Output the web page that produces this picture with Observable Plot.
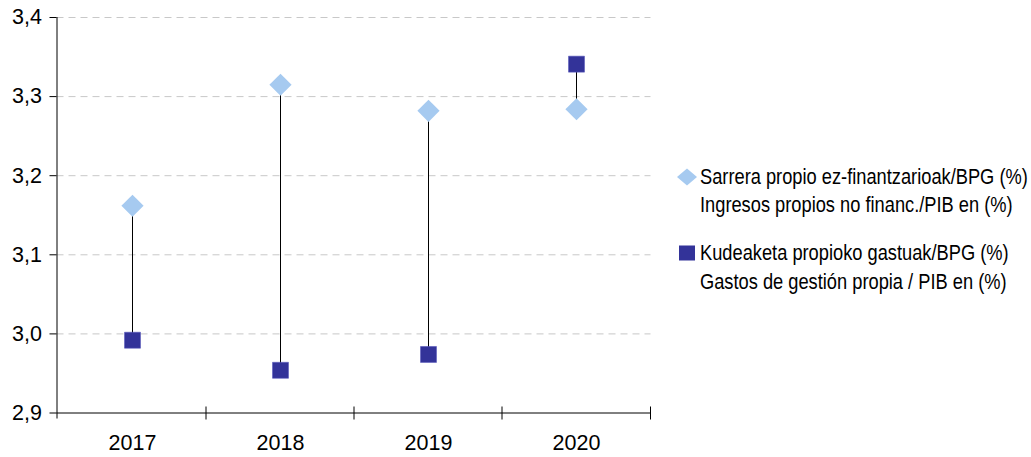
<!DOCTYPE html>
<html><head><meta charset="utf-8">
<script src="https://cdn.jsdelivr.net/npm/d3@7"></script>
<script src="https://cdn.jsdelivr.net/npm/@observablehq/plot@0.6"></script>
<style>
body{margin:0;background:#fff;font-family:"Liberation Sans",Arial,sans-serif;}
#wrap{position:relative;width:1031px;height:457px;overflow:hidden;}
.lt{position:absolute;white-space:nowrap;font-family:"Liberation Sans",Arial,sans-serif;font-size:22px;line-height:28px;height:28px;color:#000;transform:scaleX(0.83);transform-origin:0 50%;}
.lm{position:absolute;}
</style></head><body><div id="wrap"></div>
<script>
const years = ["2017", "2018", "2019", "2020"];
const ingresos = [3.162, 3.315, 3.282, 3.284];
const gastos = [2.992, 2.954, 2.974, 3.341];
const yTicks = [2.9, 3.0, 3.1, 3.2, 3.3, 3.4];
const seriesLines = [
  ["Sarrera propio ez-finantzarioak/BPG (%)", "Ingresos propios no financ./PIB en (%)"],
  ["Kudeaketa propioko gastuak/BPG (%)", "Gastos de gestión propia / PIB en (%)"]
];
const colors = ["#a6caf0", "#333399"];

const data = years.map((y, i) => ({year: y, ing: ingresos[i], gas: gastos[i]}));

const chart = Plot.plot({
  width: 1031, height: 457,
  marginLeft: 56.5, marginRight: 380.5, marginTop: 17, marginBottom: 44.5,
  style: {fontFamily: "'Liberation Sans', Arial, sans-serif", fontSize: "21.5px", color: "#000", background: "#fff"},
  x: {type: "band", domain: years, padding: 0, label: null},
  y: {domain: [2.9, 3.4], label: null},
  marks: [
    Plot.gridY(yTicks.slice(1), {stroke: "#c8c8c8", strokeOpacity: 1, strokeDasharray: "7,5"}),
    Plot.axisY(yTicks, {tickSize: 7, tickPadding: 8, tickFormat: d => d.toFixed(1).replace(".", ","), fontSize: 21.5, stroke: "#000", label: null}),
    Plot.axisX({tickSize: 0, tickPadding: 22, fontSize: 21.5, label: null}),
    Plot.ruleY([2.9], {stroke: "#000"}),
    Plot.ruleX(data, {x: "year", y1: "ing", y2: "gas", stroke: "#000", strokeWidth: 1}),
    Plot.dot(data, {x: "year", y: "gas", symbol: "square", r: 9, fill: colors[1], stroke: "#5555bb", strokeWidth: 0.6}),
    Plot.dot(data, {x: "year", y: "ing", symbol: "diamond2", r: 10, fill: colors[0]})
  ]
});

const wrap = document.getElementById("wrap");
wrap.appendChild(chart);

// axis line and category boundary ticks, from the chart's own scales
const xs = chart.scale("x"), ys = chart.scale("y");
const svg = d3.select(chart);
const x0 = xs.range[0], x1 = xs.range[1];
const yb = ys.apply(2.9), yt = ys.apply(3.4);
const g = svg.append("g").attr("stroke", "#000").attr("stroke-width", 1);
g.append("line").attr("x1", x0 + 0.5).attr("x2", x0 + 0.5).attr("y1", yt).attr("y2", yb + 6);
const bounds = years.map(y => xs.apply(y)).concat([x1]);
bounds.slice(1).forEach(b => {
  g.append("line").attr("x1", b).attr("x2", b).attr("y1", yb - 6).attr("y2", yb + 7);
});

// legend
const legCenters = [[177, 205], [253, 282]];
const markerX = 687, textX = 700;
legCenters.forEach((cs, i) => {
  const m = document.createElementNS("http://www.w3.org/2000/svg", "svg");
  m.setAttribute("class", "lm");
  m.setAttribute("width", 24); m.setAttribute("height", 24);
  m.style.left = (markerX - 12) + "px"; m.style.top = (cs[0] - 12) + "px";
  const shape = i === 0
    ? d3.select(m).append("polygon").attr("points", "12,3.5 22,12 12,20.5 2,12")
    : d3.select(m).append("rect").attr("x", 4).attr("y", 4.5).attr("width", 16).attr("height", 15);
  shape.attr("fill", colors[i]);
  wrap.appendChild(m);
  cs.forEach((c, j) => {
    const d = document.createElement("div");
    d.className = "lt";
    d.style.left = textX + "px";
    d.style.top = (c - 14) + "px";
    d.textContent = seriesLines[i][j];
    wrap.appendChild(d);
  });
});
</script>
</body></html>
